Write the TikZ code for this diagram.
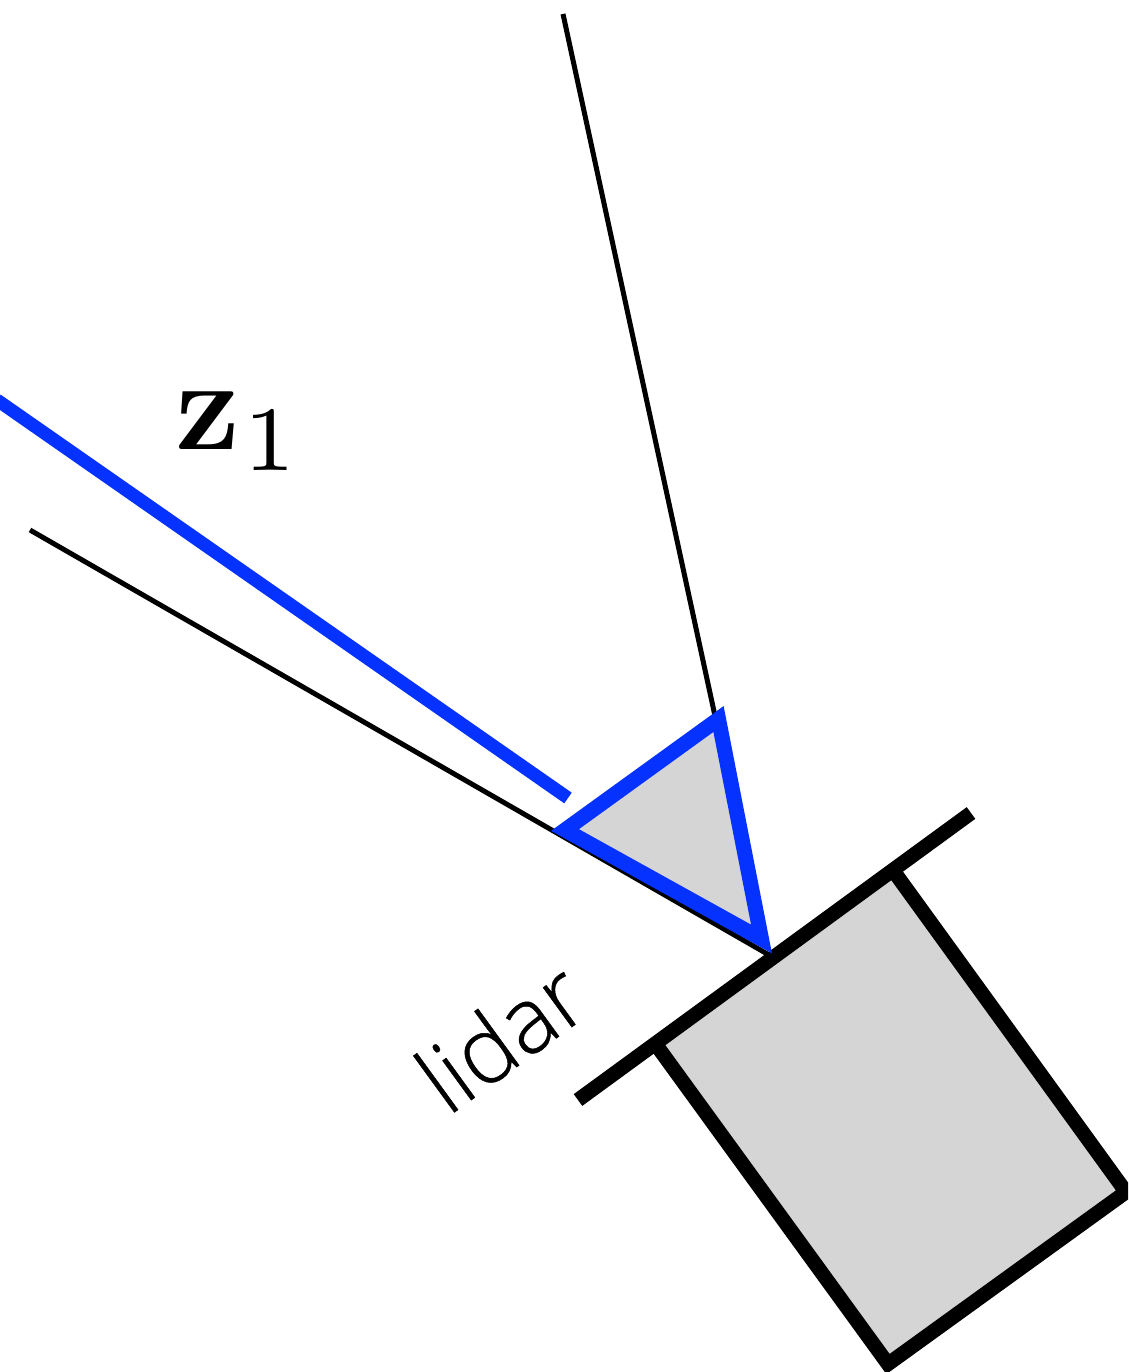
\documentclass[tikz,border=0pt]{standalone}
\usepackage{fontspec}
\setmainfont{Latin Modern Roman}
\newfontfamily\lidarfont[FakeBold=0.5]{Open Sans Light}
\newfontfamily\subfont[Extension=.otf]{lmroman7-regular}
\definecolor{rayblue}{RGB}{5,50,255}
\definecolor{fillgray}{RGB}{213,213,214}
\tikzset{thinray/.style={draw=black,line width=5pt,line cap=butt},
 thick line/.style={draw=black,line width=14.5pt,line cap=butt},
 blue line/.style={draw=rayblue,line width=13pt,line cap=butt},
 blue tri/.style={draw=rayblue,line width=15pt,line join=miter,miter limit=10}}
\begin{document}
\begin{tikzpicture}[x=1pt,y=-1pt]
\useasboundingbox (0,0) rectangle (1128,1372);
\clip (0,0) rectangle (1128,1372);
\coordinate (boxa) at (895,873);
\coordinate (boxb) at (1126,1192);
\coordinate (boxc) at (888,1364);
\coordinate (boxd) at (657,1046);
\coordinate (bara) at (578,1100);
\coordinate (barb) at (971,813);
\coordinate (raya) at (563,14);
\coordinate (rayb) at (715,716);
\coordinate (rayc) at (30,530);
\coordinate (rayd) at (770,955.5);
\coordinate (tria) at (718.5,719);
\coordinate (trib) at (565,830);
\coordinate (tric) at (761.5,939);
\coordinate (za) at (-3,400);
\coordinate (zb) at (568,798);
\fill[fillgray] (boxa)--(boxb)--(boxc)--(boxd)--cycle;
\draw[thick line,line join=miter] (boxd)--(boxc)--(boxb)--(boxa);
\draw[thick line] (bara)--(barb);
\draw[thinray] (raya)--(rayb);
\draw[thinray] (rayc)--(rayd);
\fill[fillgray] (tria)--(trib)--(tric)--cycle;
\draw[blue tri] (tria)--(trib)--(tric)--cycle;
\draw[blue line] (za)--(zb);
\node[anchor=base west,inner sep=0pt,font=\fontsize{130}{140}\selectfont\bfseries] (zlabel) at (175,449) {z};
\node[anchor=base west,inner sep=0pt,font=\subfont\fontsize{92}{100}\selectfont] (onelabel) at (243,470) {1};
\node[rotate=36,anchor=base,inner sep=0pt,font=\lidarfont\fontsize{92}{95}\selectfont] (lidar) at (521,1064) {lidar};
\end{tikzpicture}
\end{document}
